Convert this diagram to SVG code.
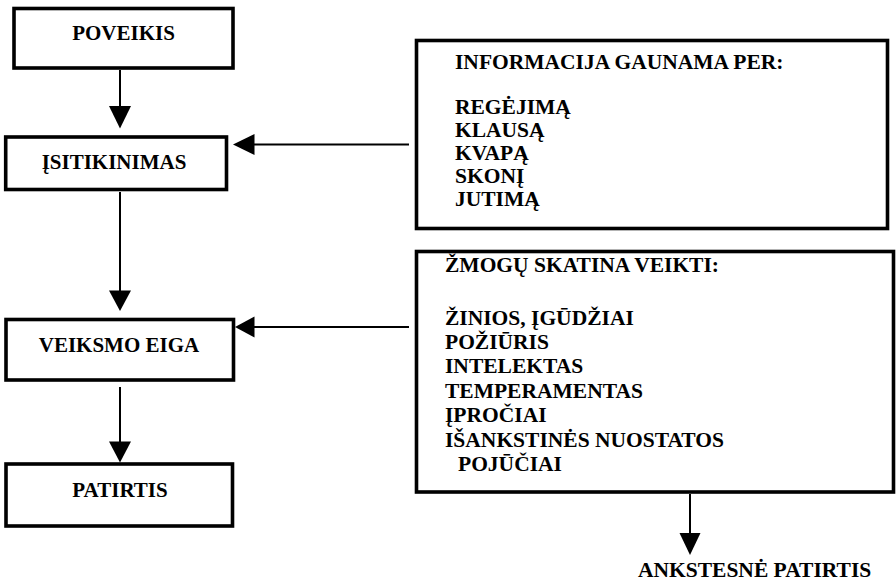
<svg xmlns="http://www.w3.org/2000/svg" width="896" height="582" viewBox="0 0 896 582" font-family="Liberation Serif, DejaVu Serif, serif" font-weight="bold">
  <style>
    .box { fill: #fff; stroke: #000; stroke-width: 3.6; }
    .lbl { font-size: 21px; text-anchor: middle; }
    .txt { font-size: 21.5px; }
    .wire { stroke: #000; stroke-width: 2; fill: none; }
    .head { fill: #000; }
  </style>
  <rect width="896" height="582" fill="#fff"/>

  <g id="poveikis">
    <rect class="box" x="14" y="8.5" width="219" height="59.5"/>
    <text class="lbl" x="123.5" y="39.5" font-family="Liberation Serif">POVEIKIS</text>
  </g>

  <g id="isitikinimas">
    <rect class="box" x="5.7" y="137" width="220.8" height="52.5"/>
    <text class="lbl" x="114" y="168.5" font-family="Liberation Serif">ĮSITIKINIMAS</text>
  </g>

  <g id="veiksmo-eiga">
    <rect class="box" x="6" y="319.5" width="227.5" height="60.5"/>
    <text class="lbl" x="119" y="352" font-family="Liberation Serif">VEIKSMO EIGA</text>
  </g>

  <g id="patirtis">
    <rect class="box" x="6" y="464" width="226.5" height="62"/>
    <text class="lbl" x="120" y="497" font-family="Liberation Serif">PATIRTIS</text>
  </g>

  <g id="informacija" font-family="Liberation Serif">
    <rect class="box" x="416.5" y="40.5" width="471" height="188"/>
    <text class="txt" x="455" y="69">INFORMACIJA GAUNAMA PER:</text>
    <text class="txt" x="455" y="114">REGĖJIMĄ</text>
    <text class="txt" x="455" y="137">KLAUSĄ</text>
    <text class="txt" x="455" y="160">KVAPĄ</text>
    <text class="txt" x="455" y="183">SKONĮ</text>
    <text class="txt" x="455" y="206">JUTIMĄ</text>
  </g>

  <g id="skatina" font-family="Liberation Serif">
    <rect class="box" x="416.5" y="251.5" width="477" height="240.5"/>
    <text class="txt" x="445" y="272">ŽMOGŲ SKATINA VEIKTI:</text>
    <text class="txt" x="445" y="325">ŽINIOS, ĮGŪDŽIAI</text>
    <text class="txt" x="445" y="349">POŽIŪRIS</text>
    <text class="txt" x="445" y="373">INTELEKTAS</text>
    <text class="txt" x="445" y="398">TEMPERAMENTAS</text>
    <text class="txt" x="445" y="422">ĮPROČIAI</text>
    <text class="txt" x="445" y="447">IŠANKSTINĖS NUOSTATOS</text>
    <text class="txt" x="458" y="471">POJŪČIAI</text>
  </g>

  <g id="ankstesne-patirtis" font-family="Liberation Serif">
    <text class="txt" x="638" y="577">ANKSTESNĖ PATIRTIS</text>
  </g>

  <g id="connectors">
    <!-- vertical flow down the left column -->
    <line class="wire" x1="120" y1="70" x2="120" y2="107"/>
    <polygon class="head" points="109,106 131,106 120,128.5"/>

    <line class="wire" x1="120" y1="192" x2="120" y2="292"/>
    <polygon class="head" points="109,290.5 131,290.5 120,311"/>

    <line class="wire" x1="120" y1="387" x2="120" y2="443"/>
    <polygon class="head" points="109,441.5 131,441.5 120,462.5"/>

    <!-- side boxes feeding the left column -->
    <line class="wire" x1="409" y1="144.5" x2="253" y2="144.5"/>
    <polygon class="head" points="254.5,134 254.5,155 233,144.5"/>

    <line class="wire" x1="409" y1="327" x2="253" y2="327"/>
    <polygon class="head" points="254.5,316.5 254.5,337.5 235,327"/>

    <!-- down to earlier experience -->
    <line class="wire" x1="690" y1="494" x2="690" y2="534"/>
    <polygon class="head" points="679.5,533 700.5,533 690,555"/>
  </g>
</svg>
